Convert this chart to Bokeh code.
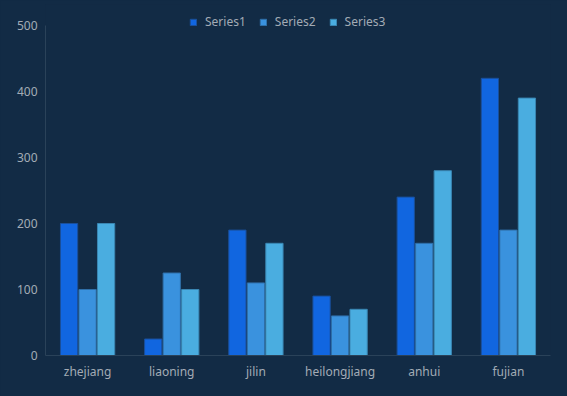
import re
from bokeh.plotting import figure
from bokeh.models import ColumnDataSource, Legend, LegendItem, FactorRange, InlineStyleSheet
from bokeh.transform import dodge
from bokeh.embed import file_html
from bokeh.resources import INLINE

provinces = ["zhejiang", "liaoning", "jilin", "heilongjiang", "anhui", "fujian"]
series_names = ["Series1", "Series2", "Series3"]
series1 = [200, 25, 190, 90, 240, 420]
series2 = [100, 125, 110, 60, 170, 190]
series3 = [200, 100, 170, 70, 280, 390]
y_ticks = [0, 100, 200, 300, 400, 500]

colors = ["#1166e0", "#3a92de", "#4aade0"]
edges = ["#1a4f9a", "#2f6fa8", "#3a86b2"]
bg = "#122b45"
txt = "#a3abb5"

source = ColumnDataSource(dict(cat=provinces, s1=series1, s2=series2, s3=series3))

# frame: top at 4px, bottom at 355px; value 500 sits at 25px
y_top = y_ticks[-1] * 351 / 330
p = figure(x_range=FactorRange(*provinces, range_padding=0), y_range=(0, y_top),
           width=567, height=396, output_backend="svg", toolbar_location=None,
           min_border_left=45, min_border_right=17, min_border_top=4, min_border_bottom=41)
p.background_fill_color = bg
p.border_fill_color = bg
p.outline_line_color = None
p.styles = {"background-color": bg}
p.stylesheets = [InlineStyleSheet(css=":host, :host * { background-color: %s; }" % bg)]

renderers = []
for i, (col, c, e) in enumerate(zip(["s1", "s2", "s3"], colors, edges)):
    r = p.vbar(x=dodge("cat", (i - 1) * 0.22, range=p.x_range), top=col, width=0.205,
               source=source, fill_color=c, line_color=e, line_width=1)
    renderers.append(r)

p.xgrid.visible = False
p.ygrid.visible = False

p.yaxis.ticker = y_ticks
p.yaxis.bounds = (y_ticks[0], y_ticks[-1])
for ax in (p.xaxis[0], p.yaxis[0]):
    ax.axis_line_color = "#2a4259"
    ax.major_tick_line_color = None
    ax.minor_tick_line_color = None
    ax.major_tick_out = 0
    ax.major_tick_in = 0
    ax.major_label_text_color = txt
    ax.major_label_text_font = "Noto Sans"
    ax.major_label_text_font_size = "12px"
p.yaxis.major_label_standoff = 8
p.xaxis.major_label_standoff = 7

legend = Legend(items=[LegendItem(label=n, renderers=[r]) for n, r in zip(series_names, renderers)],
                orientation="horizontal", location=(144, 325),
                background_fill_alpha=0, border_line_color=None,
                label_text_color=txt, label_text_font="Noto Sans", label_text_font_size="12px",
                glyph_width=8, glyph_height=8, label_standoff=8, spacing=13,
                padding=0, margin=0, label_height=12)
p.add_layout(legend, "center")

html = file_html(p, INLINE)
html = re.sub(r"<body[^>]*>", '<body style="margin:0;background:%s">' % bg, html, count=1)
open("out.html", "w").write(html)
